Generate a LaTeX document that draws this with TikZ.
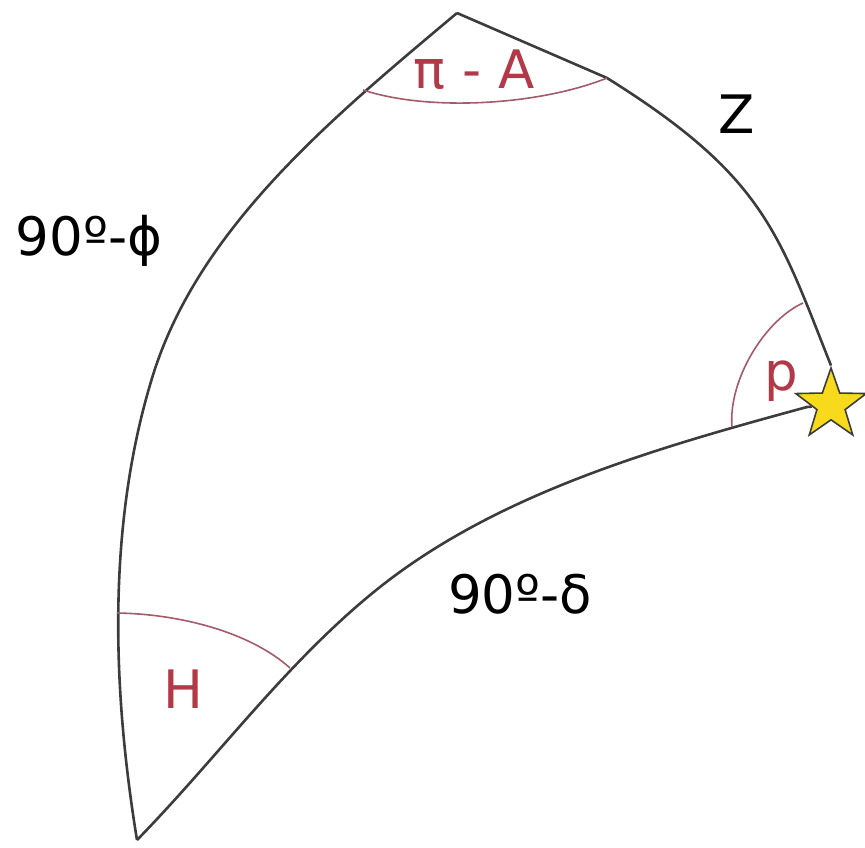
\documentclass[tikz,border=0pt]{standalone}
\usepackage{fontspec}
\setmainfont{DejaVu Sans}
\usepackage{tikz}
\usetikzlibrary{shapes.geometric}
\definecolor{edgegray}{HTML}{3C3C3C}
\definecolor{arcrose}{HTML}{A45A68}
\definecolor{labelred}{HTML}{B23A48}
\definecolor{staryellow}{HTML}{F8DA1C}
\tikzset{
  side/.style={draw=edgegray, line width=1.3pt, line join=round},
  anglearc/.style={draw=arcrose, line width=0.8pt},
  lbl/.style={inner sep=0pt, text=black, font=\fontsize{26.5}{30}\selectfont},
  anglelbl/.style={lbl, text=labelred},
  starmark/.style={star, star points=5, star point ratio=2.5, minimum size=37pt, inner sep=0pt, fill=staryellow, draw=edgegray, line width=0.8pt}
}

\begin{document}
\begin{tikzpicture}[x=0.5pt, y=-0.5pt]
  \useasboundingbox (0,0) rectangle (865,847);
  \coordinate (pole) at (457,13);
  \coordinate (zenith) at (137,840);
  \coordinate (leftmid) at (153,375);
  \coordinate (rightbend) at (607,78);
  \coordinate (lowmid) at (380,587);
  \coordinate (lowend) at (807,407);
  \node[starmark] (star) at (831,405) {};

  % sides of the triangle
  \draw[side] (pole) .. controls (337,114) and (200,225) .. (leftmid)
                     .. controls (107,523) and (112,687) .. (zenith);
  \draw[side] (pole) -- (rightbend) .. controls (764,176) and (778,232) .. (star.north);
  \draw[side] (zenith) .. controls (219,756) and (288,660) .. (lowmid)
                       .. controls (500,492) and (660,447) .. (lowend) -- (star);

  % angles
  \draw[anglearc] (363,90) .. controls (430,112) and (540,105) .. (rightbend);
  \draw[anglearc] (803,303) .. controls (765,320) and (728,380) .. (732,427);
  \draw[anglearc] (117,613) .. controls (180,614) and (250,632) .. (290,668);

  \node[anglelbl, anchor=base] (lblA) at (474,88) {π - A};
  \node[anglelbl] (lblp) at (781,381) {p};
  \node[anglelbl, anchor=base] (lblH) at (183,708) {H};
  \node[lbl, anchor=base] (lblz) at (737,133) {Z};
  \node[lbl, anchor=base] (lblphi) at (89,255) {90º-ϕ};
  \node[lbl, anchor=base] (lbldelta) at (520,613) {90º-δ};
\end{tikzpicture}
\end{document}
